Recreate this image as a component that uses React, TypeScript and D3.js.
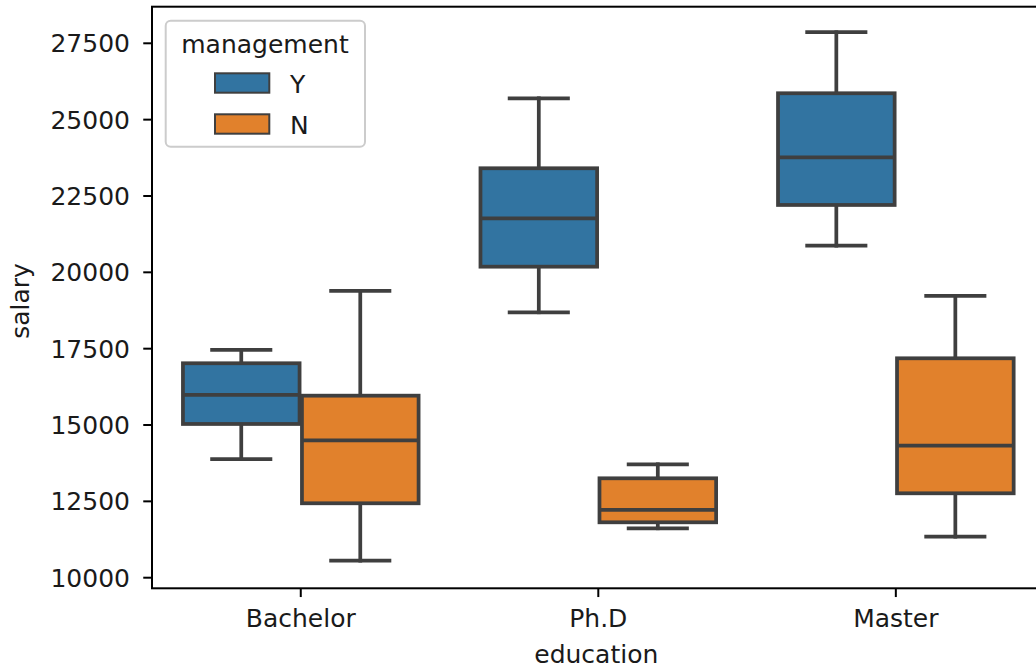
import React from "react";
import * as d3 from "d3";

const categories = ["Bachelor", "Ph.D", "Master"];
const hues = ["Y", "N"];
// [whisker low, Q1, median, Q3, whisker high]
const statsY = [
  [13887, 15034, 15983, 17022, 17457],
  [18692, 20185, 21770, 23408, 25700],
  [20873, 22206, 23768, 25864, 27862],
];
const statsN = [
  [10557, 12437, 14500, 15961, 19389],
  [11618, 11814, 12217, 13255, 13714],
  [11343, 12764, 14323, 17185, 19226],
];
const yTicks = [10000, 12500, 15000, 17500, 20000, 22500, 25000, 27500];
const hueColors = ["#3274a1", "#e1812c"];

const W = 1036;
const H = 670;
const FONT = "'DejaVu Sans', sans-serif";
const FS = 25;
const GRAY = "#3f3f3f";
const LW = 3.75;

export default function App() {
  const left = 152, right = 1044.6, top = 6.7, bottom = 588.3;
  const x = d3.scaleLinear().domain([-0.5, 2.5]).range([left, right]);
  const y = d3.scaleLinear().domain([10000, 27500]).range([577.7, 43.3]);
  const unit = x(1) - x(0);
  const boxW = 0.4 * 0.98 * unit;
  const series = [statsY, statsN];

  const boxes: any[] = [];
  series.forEach((stats, h) => {
    stats.forEach((s, i) => {
      const cx = x(i + (h === 0 ? -0.2 : 0.2));
      const [lo, q1, med, q3, hi] = s;
      boxes.push(
        <g key={`${h}-${i}`}>
          <line x1={cx} x2={cx} y1={y(q1)} y2={y(lo)} stroke={GRAY} strokeWidth={LW} strokeLinecap="square" />
          <line x1={cx} x2={cx} y1={y(q3)} y2={y(hi)} stroke={GRAY} strokeWidth={LW} strokeLinecap="square" />
          <line x1={cx - boxW / 4} x2={cx + boxW / 4} y1={y(lo)} y2={y(lo)} stroke={GRAY} strokeWidth={LW} strokeLinecap="square" />
          <line x1={cx - boxW / 4} x2={cx + boxW / 4} y1={y(hi)} y2={y(hi)} stroke={GRAY} strokeWidth={LW} strokeLinecap="square" />
          <rect x={cx - boxW / 2} y={y(q3)} width={boxW} height={y(q1) - y(q3)} fill={hueColors[h]} stroke={GRAY} strokeWidth={LW} />
          <line x1={cx - boxW / 2} x2={cx + boxW / 2} y1={y(med)} y2={y(med)} stroke={GRAY} strokeWidth={LW} />
        </g>
      );
    });
  });

  return (
    <svg width={W} height={H} style={{ position: "absolute", left: 0, top: 0, background: "#fff" }} fontFamily={FONT}>
      <rect x={0} y={0} width={W} height={H} fill="#fff" />
      {boxes}
      {/* frame */}
      <rect x={left} y={top} width={right - left} height={bottom - top} fill="none" stroke="#000" strokeWidth={2} />
      {/* y ticks */}
      {yTicks.map((t) => (
        <g key={t}>
          <line x1={left - 8.75} x2={left} y1={y(t)} y2={y(t)} stroke="#000" strokeWidth={2} />
          <text x={130} y={y(t)} dy="0.36em" textAnchor="end" fontSize={FS} fill="#1a1a1a">{t}</text>
        </g>
      ))}
      {/* x ticks */}
      {categories.map((c, i) => (
        <g key={c}>
          <line x1={x(i)} x2={x(i)} y1={bottom} y2={bottom + 8.75} stroke="#000" strokeWidth={2} />
          <text x={x(i)} y={626.5} textAnchor="middle" fontSize={FS} fill="#1a1a1a">{c}</text>
        </g>
      ))}
      <text x={(left + right) / 2} y={663.3} textAnchor="middle" fontSize={FS} fill="#1a1a1a" transform="translate(-2,0)">education</text>
      <text transform={`translate(29,301) rotate(-90)`} textAnchor="middle" fontSize={FS} fill="#1a1a1a">salary</text>
      {/* legend */}
      <g>
        <rect x={165.7} y={20.7} width={199.3} height={126} rx={5} fill="#fff" fillOpacity={0.8} stroke="#cccccc" strokeWidth={2} />
        <text x={265} y={53.3} textAnchor="middle" fontSize={FS} fill="#1a1a1a">management</text>
        {hues.map((h, i) => (
          <g key={h}>
            <rect x={215} y={73.3 + i * 41} width={54.3} height={19.4} fill={hueColors[i]} stroke={GRAY} strokeWidth={2} />
            <text x={290} y={92.7 + i * 41} fontSize={FS} fill="#1a1a1a">{h}</text>
          </g>
        ))}
      </g>
    </svg>
  );
}
